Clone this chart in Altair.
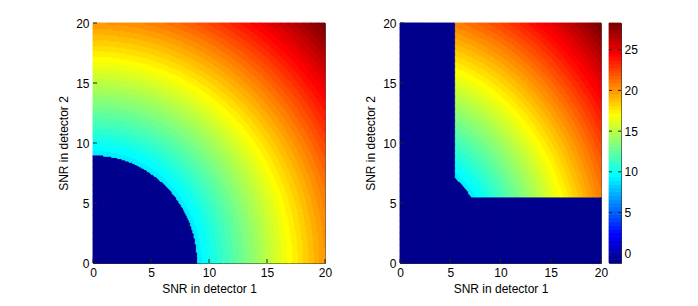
import numpy as np
import pandas as pd
import altair as alt

alt.data_transformers.disable_max_rows()

# ---- values ----
axis_ticks = [0, 5, 10, 15, 20]          # tick labels of both panels
cbar_ticks = [0, 5, 10, 15, 20, 25]      # colorbar tick labels
grid_edges = np.round(np.linspace(0, 20, 201), 4)   # SNR grid (cell edges)
threshold_radius = 9.0                   # combined SNR threshold
single_limit = 5.5                       # single detector SNR threshold (right panel)
masked_value = -1.2                      # value shown for rejected cells (colorbar bottom)
cmax = float(np.sqrt(20 ** 2 + 20 ** 2)) # colorbar top


def jet(m=64):
    n = int(np.ceil(m / 4))
    u = np.concatenate([np.arange(1, n + 1) / n, np.ones(n - 1), np.arange(n, 0, -1) / n])
    g = int(np.ceil(n / 2)) - (1 if m % 4 == 1 else 0) + np.arange(1, len(u) + 1)
    r = g + n
    b = g - n
    J = np.zeros((m, 3))
    k = r <= m
    J[r[k] - 1, 0] = u[k]
    k = g <= m
    J[g[k] - 1, 1] = u[k]
    k = b >= 1
    J[b[k] - 1, 2] = u[k]
    return ["#%02x%02x%02x" % tuple(int(round(c * 255)) for c in row) for row in J]


jet_hex = jet(64)
cscale = alt.Scale(type="quantize", domain=[masked_value, cmax], range=jet_hex, zero=False, nice=False)

x0, y0 = np.meshgrid(grid_edges[:-1], grid_edges[:-1])
x1, y1 = np.meshgrid(grid_edges[1:], grid_edges[1:])
xc, yc = (x0 + x1) / 2, (y0 + y1) / 2
combined = np.sqrt(xc ** 2 + yc ** 2)

left_v = np.where(combined >= threshold_radius, combined, masked_value)
right_v = np.where((combined >= threshold_radius) & (xc >= single_limit) & (yc >= single_limit),
                   combined, masked_value)


def frame(v):
    return pd.DataFrame({"x0": x0.ravel(), "x1": x1.ravel(), "y0": y0.ravel(),
                         "y1": y1.ravel(), "v": np.round(v.ravel(), 2)})


ticks_df = pd.DataFrame({"t": axis_ticks})
XT = "SNR in detector 1"
YT = "SNR in detector 2"


def panel(df, w, h=240):
    xs = alt.Scale(domain=[0, 20], nice=False, zero=False)
    ys = alt.Scale(domain=[0, 20], nice=False, zero=False)
    heat = alt.Chart(df).mark_rect(strokeWidth=1.0).encode(
        x=alt.X("x0:Q", scale=xs, axis=alt.Axis(values=axis_ticks), title=XT),
        x2="x1:Q",
        y=alt.Y("y0:Q", scale=ys, axis=alt.Axis(values=axis_ticks), title=YT),
        y2="y1:Q",
        color=alt.Color("v:Q", scale=cscale, legend=None),
        stroke=alt.Stroke("v:Q", scale=cscale, legend=None),
    )
    bt = alt.Chart(ticks_df).mark_rule(color="#222", strokeWidth=1).encode(
        x=alt.X("t:Q", scale=xs, axis=alt.Axis(values=axis_ticks), title=XT),
        y=alt.value(h), y2=alt.value(h - 4))
    lt = alt.Chart(ticks_df).mark_rule(color="#222", strokeWidth=1).encode(
        y=alt.Y("t:Q", scale=ys, axis=alt.Axis(values=axis_ticks), title=YT),
        x=alt.value(0), x2=alt.value(4))
    return alt.layer(heat, bt, lt).properties(width=w, height=h)


left = panel(frame(left_v), 232)
right = panel(frame(right_v), 201)

edges = np.linspace(masked_value, cmax, 65)
bands = pd.DataFrame({"lo": edges[:-1], "hi": edges[1:], "v": (edges[:-1] + edges[1:]) / 2})
cb_scale = alt.Scale(domain=[masked_value, cmax], nice=False, zero=False)
cb_axis = alt.Axis(orient="right", values=cbar_ticks, labelPadding=3)
cb_rects = alt.Chart(bands).mark_rect(strokeWidth=0.8).encode(
    y=alt.Y("lo:Q", scale=cb_scale, axis=cb_axis, title=None),
    y2="hi:Q",
    x=alt.value(0), x2=alt.value(12),
    color=alt.Color("v:Q", scale=cscale, legend=None),
    stroke=alt.Stroke("v:Q", scale=cscale, legend=None),
)
cb_df = pd.DataFrame({"t": cbar_ticks})
cb_l = alt.Chart(cb_df).mark_rule(color="#222").encode(
    y=alt.Y("t:Q", scale=cb_scale, axis=cb_axis, title=None),
    x=alt.value(0), x2=alt.value(3))
cb_r = alt.Chart(cb_df).mark_rule(color="#222").encode(
    y=alt.Y("t:Q", scale=cb_scale, axis=cb_axis, title=None),
    x=alt.value(9), x2=alt.value(12))
cbar = alt.layer(cb_rects, cb_l, cb_r).properties(width=12, height=240)

inner = alt.hconcat(right, cbar, spacing=8, bounds="flush")
chart = alt.hconcat(left, inner, spacing=75, bounds="flush").properties(
    padding={"left": 49, "top": 8, "right": 5, "bottom": 5}
).configure_view(stroke="#555", strokeWidth=1).configure_axis(
    labelFont="Liberation Sans", titleFont="Liberation Sans",
    labelFontSize=12, titleFontSize=12, titleFontWeight="normal",
    labelColor="#000", titleColor="#000", tickSize=0, domainColor="#333",
    grid=False, labelPadding=4, titlePadding=5, labelFlush=False, labelOverlap=False,
)

chart.save("out.html", embed_options={"renderer": "svg", "actions": False})
